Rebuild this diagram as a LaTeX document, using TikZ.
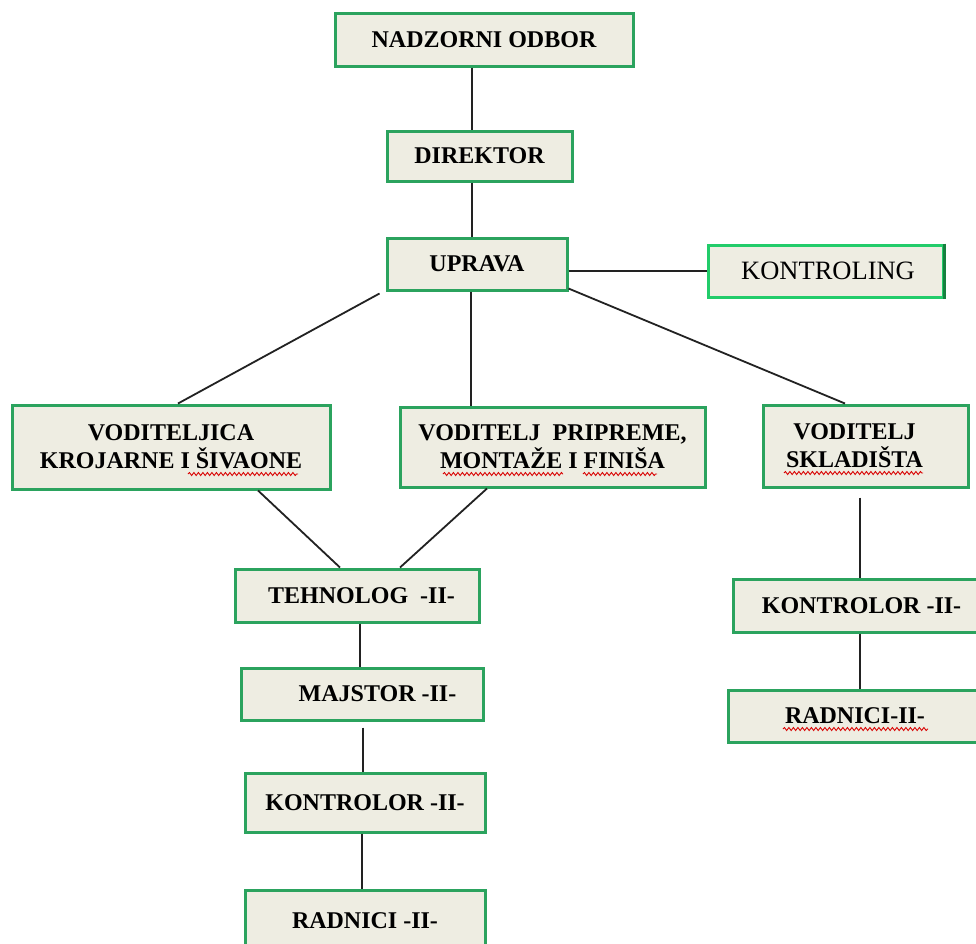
\documentclass[tikz,border=0pt]{standalone}
\usepackage{fontspec}
\setmainfont{Liberation Serif}
\usetikzlibrary{decorations.pathmorphing}
\definecolor{boxgreen}{HTML}{2BA35E}
\definecolor{boxfill}{HTML}{EEEDE2}
\definecolor{kgreen}{HTML}{22CC6A}
\definecolor{kdark}{HTML}{16803F}
\definecolor{linegray}{HTML}{222222}
\begin{document}
\begin{tikzpicture}[x=1pt,y=-1pt,
  orgbox/.style={draw=boxgreen, line width=3pt, fill=boxfill, inner sep=0pt,
    align=center, font=\bfseries\fontsize{24}{28}\selectfont},
  kbox/.style={draw=kgreen, line width=3pt, fill=boxfill, inner sep=0pt,
    align=center, font=\fontsize{26.5}{30}\selectfont},
  conn/.style={draw=linegray, line width=1.8pt},
  wavy/.style={draw=red!85!black, line width=0.9pt, decorate,
    decoration={snake, amplitude=1.5pt, segment length=4.5pt}}]
\useasboundingbox (0,0) rectangle (976,943);
\fill[white] (0,0) rectangle (976,943);

\node[orgbox, minimum width=298pt, minimum height=53pt] (nad) at (484,39.5) {NADZORNI ODBOR};
\node[orgbox, minimum width=185pt, minimum height=50pt] (dir) at (479.5,156) {DIREKTOR};
\node[orgbox, minimum width=180pt, minimum height=52pt] (upr) at (477,264) {UPRAVA};
\node[kbox, minimum width=235pt, minimum height=52pt] (kon) at (825.5,271) {\hspace*{5pt}KONTROLING};
\draw[kdark, line width=3pt] (kon.north east) -- (kon.south east);

\node[orgbox, minimum width=318pt, minimum height=84pt] (v1) at (171,447) {VODITELJICA\\KROJARNE I ŠIVAONE};
\node[orgbox, minimum width=305pt, minimum height=80pt] (v2) at (552.5,447) {VODITELJ\ \ PRIPREME,\\MONTAŽE I FINIŠA};
\node[orgbox, minimum width=205pt, minimum height=82pt] (v3) at (865.5,446) {VODITELJ\hspace*{22pt}\\SKLADIŠTA\hspace*{22pt}};

\node[orgbox, minimum width=244pt, minimum height=53pt] (teh) at (357,595.5) {\hspace*{9pt}TEHNOLOG\ \ -II-};
\node[orgbox, minimum width=242pt, minimum height=52pt] (maj) at (362,694) {\hspace*{31pt}MAJSTOR -II-};
\node[orgbox, minimum width=240pt, minimum height=59pt] (kl) at (365,802.5) {KONTROLOR -II-};
\node[orgbox, minimum width=240pt, minimum height=62pt] (rl) at (365,921) {RADNICI -II-};

\node[orgbox, minimum width=257pt, minimum height=53pt] (kr) at (861.5,605.5) {KONTROLOR -II-};
\node[orgbox, minimum width=262pt, minimum height=52pt] (rr) at (859,716) {RADNICI-II-\hspace*{8pt}};

% connectors
\draw[conn] ([xshift=-12pt]nad.south) -- ([xshift=-7.5pt]dir.north);
\draw[conn] ([xshift=-7.5pt]dir.south) -- ([xshift=-5pt]upr.north);
\draw[conn] ([yshift=-7pt]upr.east) -- (kon.west);
\draw[conn] ([xshift=-6pt,yshift=-2pt]upr.south west) -- ([xshift=7pt]v1.north);
\draw[conn] ([xshift=-6pt]upr.south) -- ([xshift=-81.5pt]v2.north);
\draw[conn] ([yshift=3pt]upr.south east) -- ([xshift=-20.5pt]v3.north);
\draw[conn] ([xshift=87pt]v1.south) -- ([xshift=-17pt]teh.north);
\draw[conn] ([xshift=-65.5pt]v2.south) -- ([xshift=43pt]teh.north);
\draw[conn] ([xshift=3pt]teh.south) -- ([xshift=-2pt]maj.north);
\draw[conn] ([xshift=1pt,yshift=-6pt]maj.south) -- ([xshift=-2pt]kl.north);
\draw[conn] ([xshift=-3pt]kl.south) -- ([xshift=-3pt]rl.north);
\draw[conn] ([xshift=-5.5pt,yshift=-9pt]v3.south) -- ([xshift=-1.5pt]kr.north);
\draw[conn] ([xshift=-1.5pt]kr.south) -- ([xshift=1pt]rr.north);

% spell-check wavy underlines
\draw[wavy] (188,474) -- (298,474);
\draw[wavy] (443,474) -- (563,474);
\draw[wavy] (583,474) -- (657,474);
\draw[wavy] (784,473) -- (923,473);
\draw[wavy] (783,729) -- (928,729);
\end{tikzpicture}
\end{document}
